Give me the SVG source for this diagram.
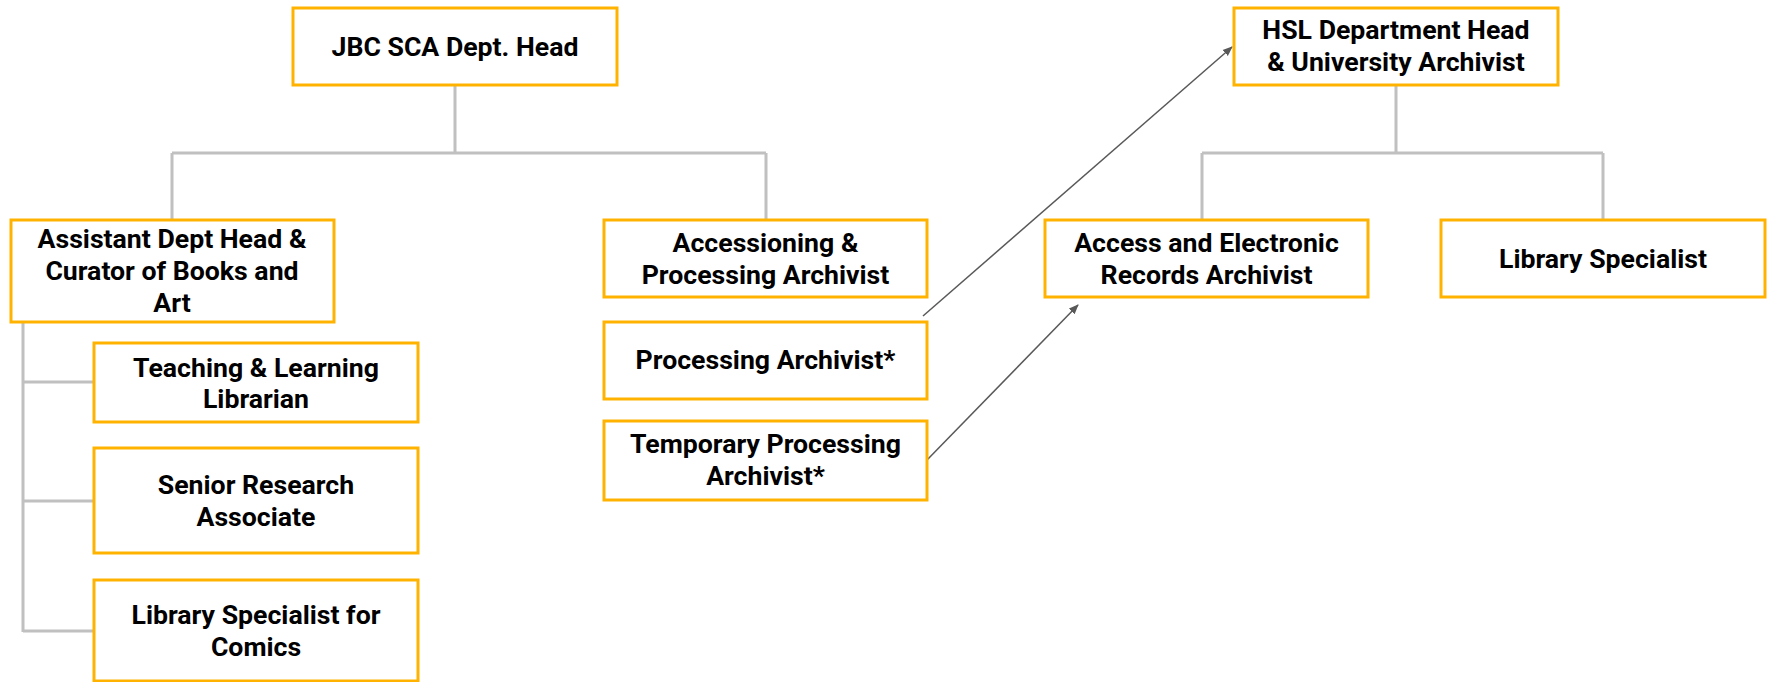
<svg xmlns="http://www.w3.org/2000/svg" width="1769" height="682" viewBox="0 0 1769 682">
<style>
.box{fill:#ffffff;stroke:#ffb300;stroke-width:3}
.t{font-family:Roboto,"Liberation Sans",sans-serif;font-weight:bold;font-size:26.67px;fill:#000000;text-anchor:middle}
.tree{fill:none;stroke:#c0c0c0;stroke-width:3}
.arr{fill:none;stroke:#595959;stroke-width:1.5;marker-end:url(#ah)}
</style>
<defs>
<marker id="ah" markerWidth="10" markerHeight="10" refX="9" refY="5" orient="auto" markerUnits="userSpaceOnUse" viewBox="0 0 10 10">
<path d="M0,1 L10,5 L0,9 z" fill="#595959"/>
</marker>
</defs>
<rect width="1769" height="682" fill="#ffffff"/>
<g id="connectors">
<path class="tree" d="M455,85 V153 M172,153 H766 M172,153 V220 M766,153 V220"/>
<path class="tree" d="M1396,85 V153 M1202,153 H1603 M1202,153 V220 M1603,153 V220"/>
<path class="tree" d="M23,322 V632 M23,382 H94 M23,501 H94 M23,631 H94"/>
<line class="arr" x1="923" y1="316" x2="1232" y2="47"/>
<line class="arr" x1="927" y1="460" x2="1078" y2="305"/>
</g>
<g id="jbc">
<rect class="box" x="293" y="8" width="324" height="77"/>
<text class="t" x="455" y="56">JBC SCA Dept. Head</text>
</g>
<g id="assistant">
<rect class="box" x="11" y="220" width="323" height="102"/>
<text class="t" x="172" y="248">Assistant Dept Head &amp;</text>
<text class="t" x="172" y="280">Curator of Books and</text>
<text class="t" x="172" y="312">Art</text>
</g>
<g id="accessioning">
<rect class="box" x="604" y="220" width="323" height="77"/>
<text class="t" x="765.5" y="252">Accessioning &amp;</text>
<text class="t" x="765.5" y="284">Processing Archivist</text>
</g>
<g id="processing">
<rect class="box" x="604" y="322" width="323" height="77"/>
<text class="t" x="765.5" y="369">Processing Archivist*</text>
</g>
<g id="temporary">
<rect class="box" x="604" y="421" width="323" height="79"/>
<text class="t" x="765.5" y="453">Temporary Processing</text>
<text class="t" x="765.5" y="485">Archivist*</text>
</g>
<g id="teaching">
<rect class="box" x="94" y="343" width="324" height="79"/>
<text class="t" x="256" y="377">Teaching &amp; Learning</text>
<text class="t" x="256" y="408">Librarian</text>
</g>
<g id="senior">
<rect class="box" x="94" y="448" width="324" height="105"/>
<text class="t" x="256" y="494">Senior Research</text>
<text class="t" x="256" y="526">Associate</text>
</g>
<g id="comics">
<rect class="box" x="94" y="580" width="324" height="101"/>
<text class="t" x="256" y="624">Library Specialist for</text>
<text class="t" x="256" y="656">Comics</text>
</g>
<g id="hsl">
<rect class="box" x="1234" y="8" width="324" height="77"/>
<text class="t" x="1396" y="39">HSL Department Head</text>
<text class="t" x="1396" y="71">&amp; University Archivist</text>
</g>
<g id="access">
<rect class="box" x="1045" y="220" width="323" height="77"/>
<text class="t" x="1206.5" y="252">Access and Electronic</text>
<text class="t" x="1206.5" y="284">Records Archivist</text>
</g>
<g id="libspec">
<rect class="box" x="1441" y="220" width="324" height="77"/>
<text class="t" x="1603" y="268">Library Specialist</text>
</g>
</svg>
